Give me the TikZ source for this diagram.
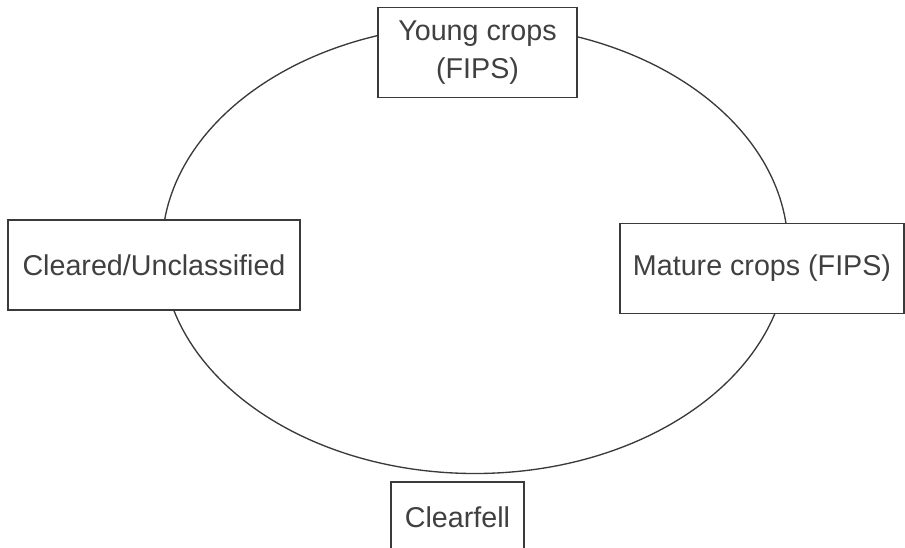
\documentclass[tikz,border=0pt]{standalone}
\usepackage{fontspec}
\setmainfont{Liberation Sans}
\usepackage{xcolor}
\usepackage{tikz}
\definecolor{inkgray}{HTML}{3A3A3A}
\definecolor{textgray}{HTML}{404040}

\begin{document}
\begin{tikzpicture}[
  x=0.75pt, y=-0.75pt,
  stagebox/.style={draw=inkgray, line width=1.3pt, fill=white, align=center, text=textgray,
    font=\fontsize{21.5}{28.5}\selectfont, inner sep=0pt, minimum height=67.5pt},
  cyc/.style={draw=inkgray, line width=1pt}
]
\clip (0,0) rectangle (905,547);
\fill[white] (0,0) rectangle (905,547);
\draw[cyc] (475,249) ellipse [x radius=313, y radius=224.5];
\node[stagebox, minimum width=149pt] (young) at (477.5,52.5) {Young crops\\(FIPS)};
\node[stagebox, minimum width=219pt] (cleared) at (154,265) {Cleared/Unclassified};
\node[stagebox, minimum width=213pt] (mature) at (762,268.5) {Mature crops (FIPS)};
\node[stagebox, minimum width=99.5pt, minimum height=52pt] (clearfell) at (457.5,517) {Clearfell};
\end{tikzpicture}
\end{document}
